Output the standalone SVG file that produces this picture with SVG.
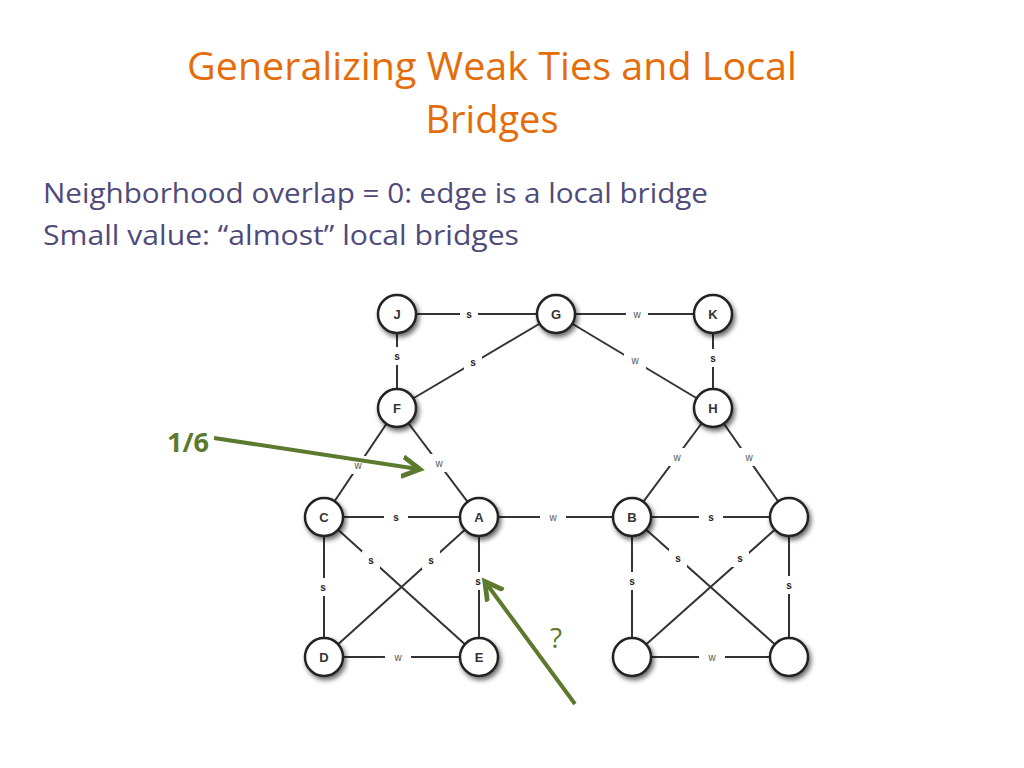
<svg xmlns="http://www.w3.org/2000/svg" width="1024" height="768" viewBox="0 0 1024 768">
<defs>
<style>
.t{font-family:"Open Sans","Liberation Sans",sans-serif;fill:#E46C0A;font-size:38px;text-anchor:middle}
.b{font-family:"Open Sans","Liberation Sans",sans-serif;fill:#4F4A7A;font-size:28px}
.e line{stroke:#333;stroke-width:2}
.n circle{fill:#fff;stroke:#222;stroke-width:2.5;filter:url(#sh)}
.n text{font-family:"Liberation Sans",sans-serif;font-size:13px;font-weight:bold;text-anchor:middle;fill:#333}
.l rect{fill:#fff}
.l text{font-family:"Liberation Sans",sans-serif;font-size:10px;font-weight:bold;text-anchor:middle;fill:#222}
.l text.w{font-weight:normal;fill:#555}
.g{stroke:#5B7A2E;stroke-width:4;fill:none;marker-end:url(#ah)}
</style>
<filter id="sh" x="-40%" y="-40%" width="190%" height="190%"><feGaussianBlur in="SourceAlpha" stdDeviation="2.5"/><feOffset dx="2" dy="3"/><feComponentTransfer><feFuncA type="linear" slope="0.6"/></feComponentTransfer><feMerge><feMergeNode/><feMergeNode in="SourceGraphic"/></feMerge></filter>
<marker id="ah" markerWidth="6" markerHeight="6" refX="4" refY="3" orient="auto" markerUnits="strokeWidth"><path d="M0,0.5 L4.5,3 L0,5.5" fill="none" stroke="#5B7A2E" stroke-width="1.2"/></marker>
</defs>
<rect width="1024" height="768" fill="#fff"/>
<text class="t" x="492" y="80" textLength="610" lengthAdjust="spacingAndGlyphs">Generalizing Weak Ties and Local</text>
<text class="t" x="492" y="133">Bridges</text>
<text class="b" x="43" y="203" textLength="665" lengthAdjust="spacingAndGlyphs">Neighborhood overlap = 0: edge is a local bridge</text>
<text class="b" x="43" y="245" textLength="476" lengthAdjust="spacingAndGlyphs">Small value: “almost” local bridges</text>
<g id="connectors" class="e">
<line x1="397" y1="314" x2="556" y2="314"/><line x1="556" y1="314" x2="713" y2="314"/>
<line x1="397" y1="314" x2="397" y2="408"/><line x1="556" y1="314" x2="397" y2="408"/>
<line x1="556" y1="314" x2="713" y2="408"/><line x1="713" y1="314" x2="713" y2="408"/>
<line x1="397" y1="408" x2="324" y2="517"/><line x1="397" y1="408" x2="479" y2="517"/>
<line x1="713" y1="408" x2="632" y2="517"/><line x1="713" y1="408" x2="789" y2="517"/>
<line x1="324" y1="517" x2="479" y2="517"/><line x1="479" y1="517" x2="632" y2="517"/><line x1="632" y1="517" x2="789" y2="517"/>
<line x1="324" y1="517" x2="479" y2="657"/><line x1="479" y1="517" x2="324" y2="657"/>
<line x1="479" y1="517" x2="479" y2="657"/><line x1="324" y1="517" x2="324" y2="657"/><line x1="324" y1="657" x2="479" y2="657"/>
<line x1="632" y1="517" x2="789" y2="657"/><line x1="789" y1="517" x2="632" y2="657"/>
<line x1="632" y1="517" x2="632" y2="657"/><line x1="789" y1="517" x2="789" y2="657"/><line x1="632" y1="657" x2="789" y2="657"/>
</g>
<g id="labels" class="l">
<rect x="460" y="305" width="18" height="18"/><text x="469" y="318">s</text>
<rect x="626" y="305" width="22" height="18"/><text class="w" x="637" y="318">w</text>
<rect x="388" y="347" width="18" height="18"/><text x="397" y="360">s</text>
<rect x="464" y="353" width="18" height="18"/><text x="473" y="366">s</text>
<rect x="624" y="351" width="22" height="18"/><text class="w" x="635" y="364">w</text>
<rect x="704" y="349" width="18" height="18"/><text x="713" y="362">s</text>
<rect x="347" y="456" width="22" height="18"/><text class="w" x="358" y="469">w</text>
<rect x="428" y="454" width="22" height="18"/><text class="w" x="439" y="467">w</text>
<rect x="666" y="448" width="22" height="18"/><text class="w" x="677" y="461">w</text>
<rect x="738" y="448" width="22" height="18"/><text class="w" x="749" y="461">w</text>
<rect x="384" y="508" width="24" height="18"/><text x="396" y="521">s</text>
<rect x="540" y="508" width="26" height="18"/><text class="w" x="553" y="521">w</text>
<rect x="699" y="508" width="24" height="18"/><text x="711" y="521">s</text>
<rect x="362" y="551" width="18" height="18"/><text x="371" y="564">s</text>
<rect x="422" y="551" width="18" height="18"/><text x="431" y="564">s</text>
<rect x="469" y="572" width="18" height="18"/><text x="478" y="585">s</text>
<rect x="314" y="578" width="18" height="18"/><text x="323" y="591">s</text>
<rect x="385" y="648" width="26" height="18"/><text class="w" x="398" y="661">w</text>
<rect x="669" y="549" width="18" height="18"/><text x="678" y="562">s</text>
<rect x="731" y="549" width="18" height="18"/><text x="740" y="562">s</text>
<rect x="623" y="572" width="18" height="18"/><text x="632" y="585">s</text>
<rect x="780" y="576" width="18" height="18"/><text x="789" y="589">s</text>
<rect x="699" y="648" width="26" height="18"/><text class="w" x="712" y="661">w</text>
</g>
<g id="nodes" class="n">
<g id="J"><circle cx="397" cy="314" r="19"/><text x="397" y="319">J</text></g>
<g id="G"><circle cx="556" cy="314" r="19"/><text x="556" y="319">G</text></g>
<g id="K"><circle cx="713" cy="314" r="19"/><text x="713" y="319">K</text></g>
<g id="F"><circle cx="397" cy="408" r="19"/><text x="397" y="413">F</text></g>
<g id="H"><circle cx="713" cy="408" r="19"/><text x="713" y="413">H</text></g>
<g id="C"><circle cx="324" cy="517" r="19"/><text x="324" y="522">C</text></g>
<g id="A"><circle cx="479" cy="517" r="19"/><text x="479" y="522">A</text></g>
<g id="B"><circle cx="632" cy="517" r="19"/><text x="632" y="522">B</text></g>
<g id="R1"><circle cx="789" cy="517" r="19"/></g>
<g id="D"><circle cx="324" cy="657" r="19"/><text x="324" y="662">D</text></g>
<g id="E"><circle cx="479" cy="657" r="19"/><text x="479" y="662">E</text></g>
<g id="R2"><circle cx="632" cy="657" r="19"/></g>
<g id="R3"><circle cx="789" cy="657" r="19"/></g>
</g>
<g id="annotations">
<line class="g" x1="214" y1="438" x2="418" y2="469"/>
<text x="188" y="452" font-family="'Open Sans','Liberation Sans',sans-serif" font-size="27" font-weight="bold" fill="#5B7A2E" text-anchor="middle">1/6</text>
<line class="g" x1="575" y1="704" x2="486" y2="583"/>
<text x="556" y="648" font-family="'Open Sans','Liberation Sans',sans-serif" font-size="28" fill="#5B7A2E" text-anchor="middle">?</text>
</g>
</svg>
